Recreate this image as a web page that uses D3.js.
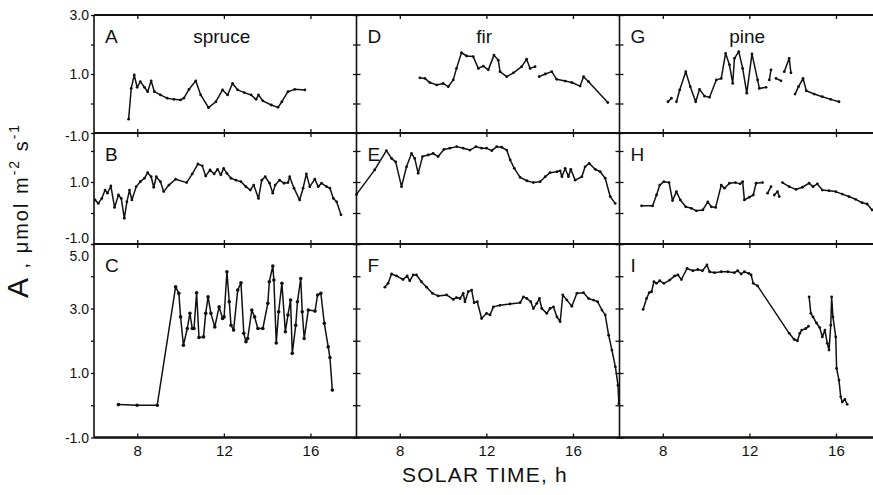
<!DOCTYPE html>
<html>
<head>
<meta charset="utf-8">
<script src="https://cdn.jsdelivr.net/npm/d3@7"></script>
<style>
  body { margin: 0; background: #fff; }
  svg text { font-family: "Liberation Sans", Arial, sans-serif; fill: #111; }
</style>
</head>
<body>
<div id="chart"></div>
<script>
// net assimilation A (umol m-2 s-1) against solar time (h); null = break in trace
const spruceA = [[7.6,-0.53],[7.72,0.51],[7.86,0.97],[7.99,0.55],[8.14,0.74],[8.33,0.55],[8.48,0.40],[8.64,0.77],[8.79,0.40],[9.07,0.29],[9.38,0.18],[9.69,0.14],[10.0,0.12],[10.15,0.18],[10.39,0.48],[10.7,0.77],[10.93,0.29],[11.29,-0.14],[11.63,0.06],[11.94,0.46],[12.17,0.29],[12.4,0.68],[12.64,0.46],[12.94,0.37],[13.26,0.29],[13.49,0.14],[13.6,0.29],[13.8,0.09],[14.19,-0.05],[14.5,-0.13],[14.68,0.06],[14.96,0.40],[15.27,0.48],[15.74,0.46]];
const firD = [[8.93,0.87],[9.16,0.85],[9.39,0.71],[9.7,0.63],[10.0,0.68],[10.24,0.57],[10.47,0.8],[10.62,1.19],[10.85,1.72],[11.09,1.61],[11.39,1.59],[11.63,1.19],[11.86,1.27],[12.09,1.14],[12.35,1.64],[12.55,1.47],[12.63,1.08],[12.94,0.91],[13.25,1.04],[13.63,1.25],[13.86,1.5],[14.02,1.19],[14.25,1.25],null,[14.44,0.91],[14.72,1.0],[15.02,1.08],[15.25,0.82],[15.64,0.76],[15.95,0.71],[16.33,0.59],[16.49,0.91],[16.72,0.74],[17.61,0.03]];
const pineG = [[8.24,0.06],[8.4,0.18],null,[8.63,0.06],[8.78,0.46],[9.06,1.08],[9.27,0.57],[9.52,0.06],[9.7,0.48],[9.93,0.25],[10.16,0.21],[10.47,0.8],[10.7,0.85],[10.9,1.7],[11.08,1.31],[11.23,0.68],[11.31,1.53],[11.51,1.76],[11.69,1.19],[11.88,0.35],[12.12,1.68],[12.38,0.8],[12.46,0.51],[12.77,0.55],null,[12.92,0.8],[13.0,1.14],null,[13.23,0.85],[13.46,0.77],null,[13.61,1.08],[13.84,1.53],[13.92,1.04],null,[14.11,0.32],[14.27,0.57],[14.48,0.85],[14.63,0.43],[14.99,0.32],[15.37,0.23],[15.76,0.14],[16.14,0.06]];
const spruceB = [[6.05,0.42],[6.2,0.31],[6.36,0.47],[6.51,0.74],[6.62,0.64],[6.78,0.87],[6.95,0.18],[7.13,0.58],[7.26,0.47],[7.4,-0.17],[7.52,0.36],[7.64,0.74],[7.75,0.42],[7.95,0.85],[8.14,1.01],[8.33,1.12],[8.48,1.3],[8.64,1.17],[8.76,0.83],[8.88,1.17],[9.07,1.01],[9.22,0.69],[9.46,0.9],[9.77,1.09],[10.28,0.98],[10.54,1.26],[10.8,1.58],[11.0,1.52],[11.16,1.19],[11.36,1.39],[11.55,1.26],[11.71,1.41],[11.86,1.23],[11.99,1.44],[12.14,1.28],[12.33,1.12],[12.56,1.06],[12.79,1.01],[13.02,0.85],[13.22,0.74],[13.38,0.9],[13.6,0.47],[13.75,1.06],[13.91,1.17],[14.11,0.96],[14.26,0.64],[14.37,0.9],[14.57,1.06],[14.78,0.96],[14.96,0.98],[15.04,1.17],[15.24,0.8],[15.5,0.42],[15.66,0.8],[15.81,1.26],[15.97,0.85],[16.2,1.09],[16.36,0.85],[16.51,0.96],[16.74,0.85],[16.9,0.8],[17.06,0.47],[17.21,0.36],[17.41,-0.06]];
const firE = [[6.0,0.6],[6.84,1.39],[7.38,2.01],[7.62,1.76],[7.81,1.65],[8.08,0.85],[8.31,1.49],[8.54,1.92],[8.69,1.76],[8.85,1.28],[9.05,1.82],[9.31,1.87],[9.54,1.92],[9.77,1.82],[10.04,2.05],[10.31,2.09],[10.63,2.14],[10.93,2.09],[11.24,2.03],[11.52,2.14],[11.78,2.09],[12.01,2.09],[12.25,2.01],[12.48,2.14],[12.71,2.12],[12.94,2.03],[13.1,1.71],[13.29,1.44],[13.56,1.15],[13.87,1.04],[14.17,0.98],[14.48,1.01],[14.72,1.17],[14.94,1.3],[15.26,1.33],[15.41,1.36],[15.49,1.17],[15.64,1.44],[15.79,1.17],[15.9,1.41],[16.1,1.06],[16.41,1.17],[16.56,1.49],[16.75,1.6],[17.03,1.41],[17.26,1.33],[17.49,1.12],[17.72,0.53],[17.95,0.31]];
const pineH = [[7.02,0.23],[7.53,0.23],[7.71,0.58],[7.86,0.9],[8.05,1.01],[8.29,0.98],[8.45,0.4],[8.63,0.69],[8.81,0.42],[9.06,0.2],[9.32,0.15],[9.55,0.07],[9.85,0.1],[10.08,0.36],[10.24,0.2],[10.44,0.18],[10.7,0.9],[10.85,0.8],[11.08,0.96],[11.36,0.98],[11.57,0.94],[11.69,1.01],[11.77,0.42],[12.0,0.51],[12.18,0.58],[12.31,0.96],[12.61,0.98],null,[12.84,0.64],[13.0,0.85],null,[13.15,0.58],[13.3,0.69],[13.38,0.53],null,[13.53,0.98],[13.84,0.85],[14.15,0.76],[14.45,0.83],[14.76,0.96],[14.94,0.85],[15.14,0.94],[15.37,0.74],[15.68,0.72],[15.99,0.69],[16.29,0.61],[16.6,0.53],[16.91,0.44],[17.21,0.33],[17.44,0.29],[17.67,0.1]];
const spruceC = [[7.13,0.02],[7.99,0.0],[8.92,0.0],[9.77,3.67],[9.92,3.47],[10.0,2.74],[10.13,1.86],[10.31,2.38],[10.43,2.85],[10.54,2.38],[10.62,2.38],[10.74,3.49],[10.85,2.1],[11.06,2.12],[11.16,2.85],[11.27,3.36],[11.4,2.85],[11.58,2.43],[11.78,3.05],[11.94,2.69],[12.01,2.74],[12.14,4.14],[12.25,3.21],[12.33,2.48],[12.45,2.33],[12.64,3.57],[12.79,3.8],[12.92,2.23],[13.02,1.97],[13.1,2.07],[13.29,2.95],[13.42,2.74],[13.57,2.38],[13.8,2.38],[14.03,3.16],[14.1,3.83],[14.26,4.32],[14.31,3.88],[14.42,1.93],[14.53,2.9],[14.68,3.78],[14.84,2.28],[14.96,2.8],[15.08,3.26],[15.16,1.61],[15.32,2.48],[15.4,3.21],[15.55,3.93],[15.62,2.9],[15.71,2.07],[15.9,2.95],[16.21,2.92],[16.33,3.42],[16.48,3.47],[16.64,2.54],[16.82,1.81],[16.9,1.48],[17.01,0.47]];
const firF = [[7.31,3.66],[7.46,3.78],[7.62,4.07],[7.85,4.01],[8.15,3.9],[8.34,4.01],[8.46,3.86],[8.62,4.04],[8.77,4.04],[9.0,3.83],[9.24,3.66],[9.51,3.47],[9.77,3.39],[10.16,3.42],[10.47,3.28],[10.62,3.34],[10.78,3.31],[10.93,3.47],[11.01,3.21],[11.16,3.52],[11.32,3.57],[11.43,3.18],[11.58,3.21],[11.78,2.69],[12.01,2.85],[12.17,2.8],[12.32,3.05],[12.63,3.1],[13.09,3.14],[13.56,3.18],[13.71,3.36],[13.87,3.31],[14.05,3.21],[14.17,3.0],[14.33,3.16],[14.45,3.31],[14.56,3.0],[14.79,2.85],[14.94,3.0],[15.1,3.05],[15.26,2.74],[15.41,2.59],[15.53,3.42],[15.72,3.26],[15.95,3.07],[16.18,3.47],[16.49,3.49],[16.72,3.31],[16.95,3.26],[17.14,3.21],[17.34,2.95],[17.49,2.8],[17.65,2.17],[17.8,1.71],[17.96,1.19],[18.08,0.62],[18.12,0.05]];
const pineI = [[7.09,2.97],[7.25,3.31],[7.37,3.49],[7.48,3.52],[7.59,3.83],[7.71,3.78],[7.86,3.86],[8.05,3.78],[8.32,3.88],[8.55,4.01],[8.7,4.04],[8.86,3.9],[9.12,4.24],[9.39,4.17],[9.62,4.21],[9.83,4.17],[10.04,4.35],[10.16,4.14],[10.39,4.11],[10.7,4.14],[11.0,4.14],[11.31,4.11],[11.46,4.17],[11.62,4.07],[11.77,4.14],[11.97,4.09],[12.08,4.04],[12.18,3.78],[12.38,3.7],[13.84,2.23],[14.07,2.04],[14.22,2.0],[14.33,2.23],[14.42,2.33],[14.61,2.38],[14.73,2.45],null,[14.76,3.36],[14.84,2.85],[14.94,2.74],[15.1,2.55],[15.25,2.41],[15.37,2.12],[15.49,2.33],[15.6,1.92],[15.68,1.71],[15.76,2.48],[15.8,3.36],[15.86,2.74],[15.99,2.12],[16.03,1.14],[16.14,0.78],[16.22,0.26],[16.29,0.1],[16.41,0.18],[16.52,0.03]];

const xTicks = [8, 12, 16];
const rowDomains = [[-1, 3], [-1, 2.58], [-1, 5]];
const rowTicks = [[-1, 0, 1, 2, 3], [-1, 0, 1, 2], [-1, 0, 1, 2, 3, 4, 5]];
const rowLabels = [[3, 1, -1], [1, -1], [5, 3, 1, -1]];
const species = ["spruce", "fir", "pine"];
const panelLetters = [["A", "B", "C"], ["D", "E", "F"], ["G", "H", "I"]];
const panelData = [[spruceA, spruceB, spruceC], [firD, firE, firF], [pineG, pineH, pineI]];

const W = 873, H = 495;
const colLeft = [94, 356.5, 619.5];
const colWidth = 263;
const rowTop = [15, 133, 244];
const rowBottom = [133, 244, 437.5];
// small shifts of a few y labels, as printed
const labelShift = { "0:-1": 3, "1:-1": -6, "2:5": 12 };

const svg = d3.select("#chart").append("svg")
  .attr("width", W).attr("height", H);

const xs = colLeft.map(l => d3.scaleLinear().domain([6, 18.15]).range([l, l + colWidth]));
const ys = rowDomains.map((d, r) => d3.scaleLinear().domain(d).range([rowBottom[r], rowTop[r]]));

// ticks for every panel (inward on all four sides)
for (let c = 0; c < 3; c++) {
  for (let r = 0; r < 3; r++) {
    const x = xs[c], y = ys[r];
    const g = svg.append("g");
    g.append("g").attr("transform", `translate(0,${rowTop[r]})`)
      .call(d3.axisTop(x).tickValues(xTicks).tickSize(-4).tickFormat(""));
    g.append("g").attr("transform", `translate(0,${rowBottom[r]})`)
      .call(d3.axisBottom(x).tickValues(xTicks).tickSize(-4).tickFormat(""));
    g.append("g").attr("transform", `translate(${colLeft[c]},0)`)
      .call(d3.axisLeft(y).tickValues(rowTicks[r]).tickSize(c === 0 ? 3 : -4).tickFormat(""));
    g.append("g").attr("transform", `translate(${colLeft[c] + colWidth},0)`)
      .call(d3.axisRight(y).tickValues(rowTicks[r]).tickSize(-4).tickFormat(""));
    g.selectAll(".domain").remove();
    g.selectAll(".tick line").attr("stroke", "#111").attr("stroke-width", 1.3);
  }
}

// frame
const frame = svg.append("g").attr("stroke", "#111").attr("fill", "none");
[rowTop[0], rowTop[1], rowTop[2], rowBottom[2]].forEach((yy, i) => {
  frame.append("line").attr("x1", colLeft[0]).attr("x2", W)
    .attr("y1", yy).attr("y2", yy).attr("stroke-width", i === 3 ? 2.6 : 2);
});
colLeft.forEach(l => {
  frame.append("line").attr("x1", l).attr("x2", l)
    .attr("y1", rowTop[0]).attr("y2", rowBottom[2]).attr("stroke-width", 1.6);
});

// x tick labels
xs.forEach(x => {
  const a = svg.append("g").attr("transform", `translate(0,${rowBottom[2]})`)
    .call(d3.axisBottom(x).tickValues(xTicks).tickSize(0).tickPadding(8));
  a.select(".domain").remove();
  a.selectAll("text").attr("font-size", 15).attr("fill", "#111")
    .style("font-family", "'Liberation Sans', Arial, sans-serif");
});

// y tick labels
rowLabels.forEach((vals, r) => {
  svg.append("g").selectAll("text").data(vals).join("text")
    .attr("x", colLeft[0] - 5)
    .attr("y", v => ys[r](v) + (labelShift[r + ":" + v] || 0))
    .attr("dy", "0.36em")
    .attr("text-anchor", "end")
    .attr("font-size", 14)
    .text(v => v.toFixed(1));
});

// traces
const line = d3.line().defined(d => d !== null);
for (let c = 0; c < 3; c++) {
  for (let r = 0; r < 3; r++) {
    const x = xs[c], y = ys[r];
    const pts = panelData[c][r];
    line.x(d => x(d[0])).y(d => y(d[1]));
    svg.append("path").datum(pts)
      .attr("d", line)
      .attr("fill", "none")
      .attr("stroke", "#111")
      .attr("stroke-width", 1.5)
      .attr("stroke-linejoin", "round");
    svg.append("g").selectAll("circle").data(pts.filter(d => d !== null)).join("circle")
      .attr("cx", d => x(d[0])).attr("cy", d => y(d[1]))
      .attr("r", r === 2 && c === 0 ? 1.8 : 1.4)
      .attr("fill", "#111");

    // panel letter
    svg.append("text")
      .attr("x", colLeft[c] + 11).attr("y", rowTop[r] + 28)
      .attr("font-size", 19)
      .text(panelLetters[c][r]);
  }
  svg.append("text")
    .attr("x", xs[c](11.9)).attr("y", rowTop[0] + 28)
    .attr("text-anchor", "middle")
    .attr("font-size", 19)
    .text(species[c]);
}

// axis titles
svg.append("text")
  .attr("x", 485).attr("y", 482)
  .attr("text-anchor", "middle")
  .attr("font-size", 21)
  .attr("letter-spacing", 1.2)
  .text("SOLAR TIME, h");

const yt = svg.append("text")
  .attr("transform", "translate(28,298) rotate(-90)")
  .attr("font-size", 20)
  .attr("letter-spacing", 2);
yt.append("tspan").attr("font-size", 30).text("A");
yt.append("tspan").text(" , \u03bcmol m");
yt.append("tspan").attr("dy", -9).attr("font-size", 14).text("-2");
yt.append("tspan").attr("dy", 9).text(" s");
yt.append("tspan").attr("dy", -9).attr("font-size", 14).text("-1");
</script>
</body>
</html>
